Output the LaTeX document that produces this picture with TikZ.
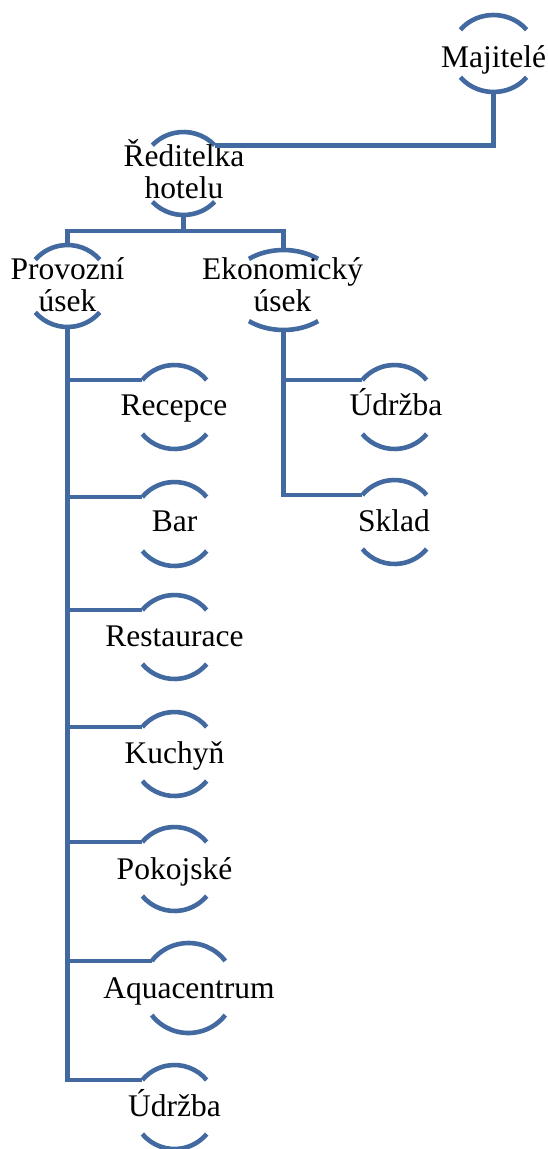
\documentclass[tikz,border=0pt]{standalone}
\usepackage{fontspec}
\setmainfont{Liberation Serif}
\usetikzlibrary{calc}
\definecolor{linkblue}{RGB}{66,106,160}
\tikzset{
  ring/.style={draw=linkblue, line width=4.6pt},
  link/.style={draw=linkblue, line width=4.6pt},
  lbl/.style={font=\fontsize{31.5}{32}\selectfont, inner sep=0pt, align=center, text=black}
}
% name, x, y (pixels, downward), rx, ry, half-angle of the arcs
\newcommand{\ringnode}[6]{%
  \coordinate (#1) at (#2pt,-#3pt);
  \coordinate (#1-t) at ($(#1)+(0pt,#5pt)$);
  \coordinate (#1-b) at ($(#1)+(0pt,-#5pt)$);
  \coordinate (#1-tr) at ($(#1)+({90-#6}:#4pt and #5pt)$);
  \coordinate (#1-tl) at ($(#1)+({90+#6}:#4pt and #5pt)$);
  \coordinate (#1-bl) at ($(#1)+({270-#6}:#4pt and #5pt)$);
  \draw[ring] (#1-tr) arc[start angle={90-#6}, end angle={90+#6}, x radius=#4pt, y radius=#5pt];
  \draw[ring] (#1-bl) arc[start angle={270-#6}, end angle={270+#6}, x radius=#4pt, y radius=#5pt];
}
\begin{document}
\begin{tikzpicture}
\useasboundingbox (0pt,0pt) rectangle (547pt,-1149pt);
% rings
\ringnode{maj}{493.5}{53.5}{42}{38.5}{52}
\ringnode{red}{183.5}{173.5}{42.5}{41.5}{47}
\ringnode{prov}{67.5}{286}{42}{41}{50}
\ringnode{eko}{283.5}{290}{55}{40}{39}
\ringnode{rec}{174.5}{407}{42}{42}{50}
\ringnode{bar}{174.5}{524}{42}{42}{50}
\ringnode{rest}{174.5}{637}{42}{42}{50}
\ringnode{kuch}{174.5}{754}{42}{42}{50}
\ringnode{pok}{174.5}{869}{42}{42}{50}
\ringnode{aqua}{188.5}{988}{46}{45}{53}
\ringnode{udra}{174.5}{1107}{42}{42}{50}
\ringnode{udrb}{394.5}{407}{42}{42}{50}
\ringnode{skl}{394.5}{522}{42}{42}{50}
% labels
\node[lbl, anchor=base] (maj-l) at (493.5pt,-67pt) {Majitelé};
\node[lbl] (red-l) at (184pt,-169.5pt) {Ředitelka\\hotelu};
\node[lbl] (prov-l) at (67.5pt,-285pt) {Provozní\\úsek};
\node[lbl] (eko-l) at (282.5pt,-285pt) {Ekonomický\\úsek};
\node[lbl, anchor=base] (rec-l) at (174pt,-415pt) {Recepce};
\node[lbl, anchor=base] (bar-l) at (174.5pt,-531pt) {Bar};
\node[lbl, anchor=base] (rest-l) at (174.5pt,-646pt) {Restaurace};
\node[lbl, anchor=base] (kuch-l) at (174.5pt,-763pt) {Kuchyň};
\node[lbl, anchor=base] (pok-l) at (174.5pt,-879pt) {Pokojské};
\node[lbl, anchor=base] (aqua-l) at (189pt,-998pt) {Aquacentrum};
\node[lbl, anchor=base] (udra-l) at (174.5pt,-1116pt) {Údržba};
\node[lbl, anchor=base] (udrb-l) at (396pt,-415pt) {Údržba};
\node[lbl, anchor=base] (skl-l) at (394pt,-531pt) {Sklad};
% connectors
\coordinate (j1) at (183.5pt,-231pt);
\draw[link] (maj-b) |- (red-tr);
\draw[link] (red-b) -- (j1);
\draw[link] (prov-t) -- (prov-t |- j1) -- (eko-t |- j1) -- (eko-t);
\draw[link] (prov-b) |- (udra-tl);
\foreach \c in {rec,bar,rest,kuch,pok,aqua}
  \draw[link] (prov-b |- \c-tl) -- (\c-tl);
\draw[link] (eko-b) |- (skl-tl);
\draw[link] (eko-b |- udrb-tl) -- (udrb-tl);
\end{tikzpicture}
\end{document}
